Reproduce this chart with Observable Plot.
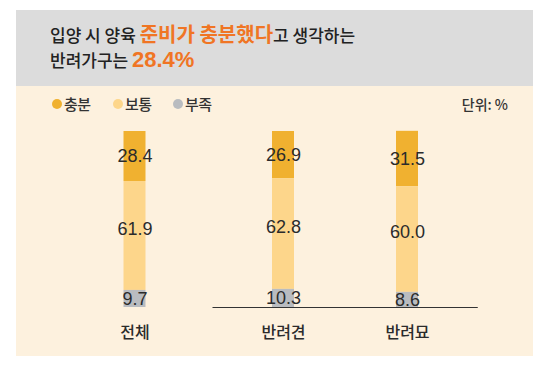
<!DOCTYPE html>
<html><head><meta charset="utf-8">
<script src="https://cdn.jsdelivr.net/npm/d3@7"></script>
<script src="https://cdn.jsdelivr.net/npm/@observablehq/plot@0.6"></script>
<style>
body{margin:0;background:#fff;font-family:"Noto Sans CJK KR","Noto Sans",sans-serif;}
#wrap{position:relative;width:548px;height:367px;overflow:hidden;}
#head{position:absolute;left:16px;top:10px;width:517px;height:76px;background:#dcdcdc;}
#panel{position:absolute;left:16px;top:86px;width:517px;height:270px;background:#fdf1de;}
.tl{position:absolute;left:50px;font-size:17px;line-height:24px;color:#222;font-weight:500;white-space:nowrap;}
.hl{color:#f07524;font-weight:700;font-size:20px;}
.hl2{color:#f07524;font-weight:700;font-size:22px;font-family:"Liberation Sans",Arial,sans-serif;}
.lg{position:absolute;font-size:15px;line-height:20px;color:#333;font-weight:500;white-space:nowrap;letter-spacing:-0.5px;}
.dot{position:absolute;width:10px;height:10px;border-radius:50%;}
#unit{position:absolute;right:40px;top:94px;font-size:14px;line-height:20px;color:#333;font-weight:500;}
#chart{position:absolute;left:0;top:0;}
</style></head>
<body>
<div id="wrap">
  <div id="head"></div>
  <div id="panel"></div>
  <div class="tl" style="top:22px">입양 시 양육 <span class="hl">준비가 충분했다</span>고 생각하는</div>
  <div class="tl" style="top:48px">반려가구는 <span class="hl2">28.4%</span></div>
  <div id="legend"></div>
  <div id="unit">단위: %</div>
  <div id="chart"></div>
</div>
<script>
const categories = ["전체", "반려견", "반려묘"];
const series = ["충분", "보통", "부족"];
const enough = [28.4, 26.9, 31.5];
const normal = [61.9, 62.8, 60.0];
const lacking = [9.7, 10.3, 8.6];
const colors = ["#f0b130", "#fdd68b", "#b9bcc0"];

// legend
const legendX = [57, 118, 178];
const legend = document.getElementById("legend");
series.forEach((s, i) => {
  const d = document.createElement("div");
  d.className = "dot";
  d.style.background = colors[i];
  d.style.left = (legendX[i] - 5) + "px";
  d.style.top = (104 - 5) + "px";
  legend.appendChild(d);
  const t = document.createElement("div");
  t.className = "lg";
  t.textContent = s;
  t.style.left = (legendX[i] + 7) + "px";
  t.style.top = "94px";
  legend.appendChild(t);
});

const values = [enough, normal, lacking];
const data = categories.flatMap((c, i) =>
  series.map((s, j) => ({category: c, series: s, value: values[j][i]}))
);
const fmt = d3.format(".1f");
const base = {x: "category", y: "value", z: "series", order: ["부족", "보통", "충분"]};
const shiftFirst = -24.5;
const isFirst = d => d.category === categories[0];
const valueFont = {fill: "#2b2b2b", fontSize: 18, fontFamily: "Liberation Sans, Arial, sans-serif", letterSpacing: -1};

function group(filter, dx) {
  return [
    Plot.barY(data, Plot.stackY({...base, filter, fill: "series", dx})),
    Plot.text(data, Plot.stackY({...base, filter, text: d => d.series !== "보통" ? fmt(d.value) : "", dx, ...valueFont})),
    Plot.text(data, Plot.stackY({...base, filter, text: d => d.series === "보통" ? fmt(d.value) : "", dx, dy: -7, ...valueFont})),
    Plot.text(categories.filter(c => filter({category: c})), {x: d => d, y: () => 0, text: d => d, dx, dy: 25,
      fill: "#2b2b2b", fontSize: 16, fontWeight: 500, fontFamily: "Noto Sans CJK KR, sans-serif", letterSpacing: -1.5})
  ];
}

const chart = Plot.plot({
  width: 548,
  height: 367,
  marginTop: 131,
  marginBottom: 60,
  marginLeft: 0,
  marginRight: 0,
  style: {background: "transparent", overflow: "visible"},
  x: {domain: categories, range: [147.75, 419.3], paddingInner: 0.819, paddingOuter: 0, axis: null},
  y: {domain: [0, 100], axis: null},
  color: {domain: series, range: colors},
  marks: [
    ...group(isFirst, shiftFirst),
    ...group(d => !isFirst(d), 0),
    Plot.ruleY([0], {x1: () => categories[1], x2: () => categories[2], insetLeft: -59.5, insetRight: -59.75, stroke: "#333", strokeWidth: 1})
  ]
});
document.getElementById("chart").appendChild(chart);
</script>
</body></html>
